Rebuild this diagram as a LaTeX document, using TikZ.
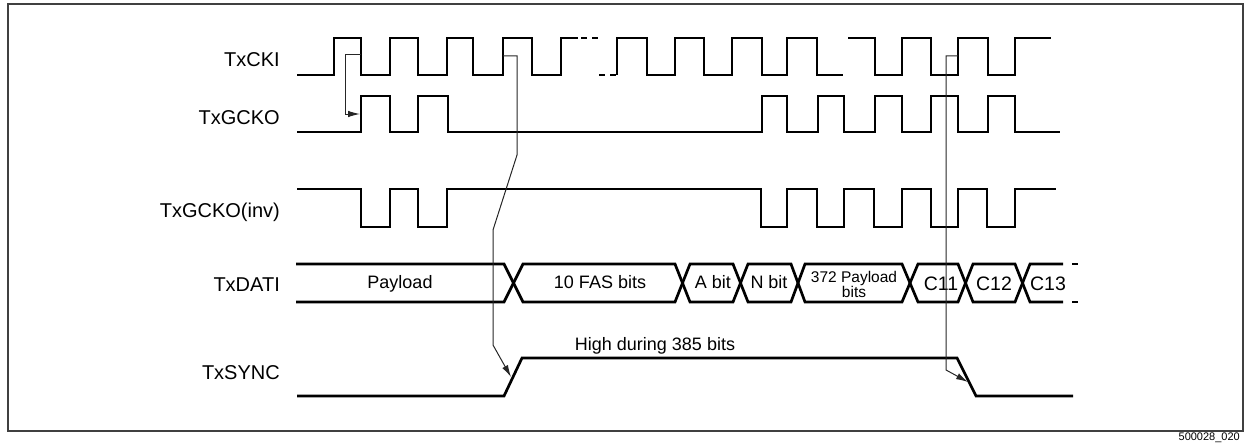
\documentclass[tikz,border=0pt]{standalone}
\usepackage{fontspec}
\setmainfont{Liberation Sans}
\usetikzlibrary{arrows.meta}
\begin{document}
\begin{tikzpicture}[x=1pt,y=-1pt,
  sig/.style={line width=2.7pt},
  sigdash/.style={line width=1.6pt, dash pattern=on 6pt off 5pt},
  cause/.style={line width=1pt, draw=black!85, -{Latex[length=12pt,width=6.5pt]}},
  lbl/.style={anchor=base east, inner sep=0pt, font=\fontsize{20}{24}\selectfont},
  celltext/.style={anchor=base, inner sep=0pt, font=\fontsize{18}{21}\selectfont},
  smalltext/.style={anchor=base, inner sep=0pt, font=\fontsize{15.5}{16}\selectfont},
  bigcell/.style={anchor=base, inner sep=0pt, font=\fontsize{19.5}{24}\selectfont},
  frame/.style={draw=black!75, line width=1.3pt}]
\useasboundingbox (0,0) rectangle (1245,444);
\draw[frame] (8,4) rectangle (1243,431);

% labels
\node[lbl] (lcki) at (280,66.5) {TxCKI};
\node[lbl] (lgcko) at (280,124) {TxGCKO};
\node[lbl] (linv) at (280,217) {TxGCKO(inv)};
\node[lbl] (ldati) at (280,291) {TxDATI};
\node[lbl] (lsync) at (280,379) {TxSYNC};

% TxCKI
\draw[sig] (297,75) -- (334,75) -- (334,38) -- (361,38) -- (361,75) -- (390,75) -- (390,38) -- (418,38) -- (418,75) -- (447,75) -- (447,38) -- (473,38) -- (473,75) -- (503,75) -- (503,38) -- (532,38) -- (532,75) -- (561,75) -- (561,38) -- (578,38);
\draw[sigdash] (581,38) -- (599,38);
\draw[sigdash] (599,75) -- (616,75);
\draw[sig] (617,75) -- (617,38) -- (647,38) -- (647,75) -- (675,75) -- (675,38) -- (704,38) -- (704,75) -- (732,75) -- (732,38) -- (762,38) -- (762,75) -- (787,75) -- (787,38) -- (817,38) -- (817,75) -- (843,75);
\draw[sig] (848,38) -- (875,38) -- (875,75) -- (902,75) -- (902,38) -- (931,38) -- (931,75) -- (958,75) -- (958,38) -- (988,38) -- (988,75) -- (1015,75) -- (1015,38) -- (1051,38);

% TxGCKO
\draw[sig] (297,132) -- (361,132) -- (361,96) -- (390,96) -- (390,132) -- (418,132) -- (418,96) -- (448,96) -- (448,132) -- (762,132) -- (762,96) -- (787,96) -- (787,132) -- (818,132) -- (818,96) -- (844,96) -- (844,132) -- (875,132) -- (875,96) -- (902,96) -- (902,132) -- (931,132) -- (931,96) -- (958,96) -- (958,132) -- (988,132) -- (988,96) -- (1015,96) -- (1015,132) -- (1060,132);

% TxGCKO(inv)
\draw[sig] (297,189) -- (361,189) -- (361,227) -- (390,227) -- (390,189) -- (418,189) -- (418,227) -- (447,227) -- (447,189) -- (761,189) -- (761,227) -- (787,227) -- (787,189) -- (817,189) -- (817,227) -- (844,227) -- (844,189) -- (874,189) -- (874,227) -- (902,227) -- (902,189) -- (931,189) -- (931,227) -- (958,227) -- (958,189) -- (987,189) -- (987,227) -- (1015,227) -- (1015,189) -- (1056,189);

% TxDATI
\draw[sig] (296,264) -- (504,264) -- (523,302) -- (675,302) -- (690,264) -- (733,264) -- (748,302) -- (791,302) -- (805,264) -- (902,264) -- (918,302) -- (958,302) -- (973,264) -- (1015,264) -- (1030,302) -- (1063,302);
\draw[sig] (296,302) -- (504,302) -- (523,264) -- (675,264) -- (690,302) -- (733,302) -- (748,264) -- (791,264) -- (805,302) -- (902,302) -- (918,264) -- (958,264) -- (973,302) -- (1015,302) -- (1030,264) -- (1063,264);
\draw[sigdash] (1072,264) -- (1079,264);
\draw[sigdash] (1072,302) -- (1079,302);

\node[celltext] (payload) at (400,288) {Payload};
\node[celltext] (fas) at (600,288) {10 FAS bits};
\node[celltext] (abit) at (713,288.5) {A bit};
\node[celltext] (nbit) at (769,288.5) {N bit};
\node[smalltext] (pl372) at (854,282) {372 Payload};
\node[smalltext] (plbits) at (854,297) {bits};
\node[bigcell] (c11) at (941,290) {C11};
\node[bigcell] (c12) at (994,290) {C12};
\node[bigcell] (c13) at (1048,290) {C13};

% TxSYNC
\draw[sig] (297,396) -- (504,396) -- (522,358) -- (957,358) -- (976,396) -- (1073,396);
\node[celltext] (high) at (655,350) {High during 385 bits};

% cause arrows
\coordinate (e1) at (361,55);
\coordinate (e1t) at (360,114);
\draw[cause] (e1) -- (345,55) -- (345,114) -- (e1t);

\coordinate (e2) at (503,56);
\coordinate (e2t) at (511,377);
\draw[cause] (e2) -- (517,56) -- (517,155) -- (493,230) -- (493,345) -- (e2t);

\coordinate (e3) at (958,56);
\coordinate (e3t) at (968,382);
\draw[cause] (e3) -- (946,56) -- (946,370) -- (e3t);

% figure id
\node[anchor=base east, inner sep=0pt, font=\fontsize{11}{12}\selectfont] (figid) at (1240,440) {500028\_020};
\end{tikzpicture}
\end{document}
